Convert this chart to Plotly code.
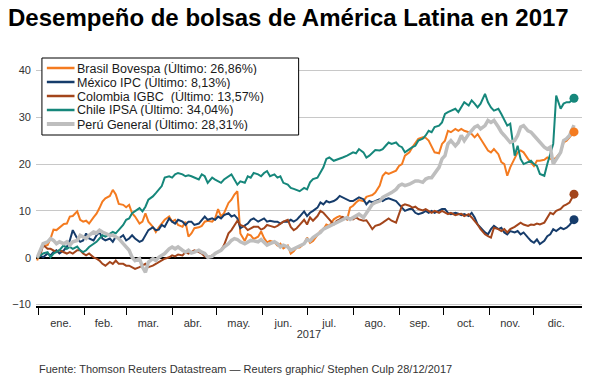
import pandas as pd
import plotly.graph_objects as go

# ---------------- data ----------------
# sample days, counted from 1 Jan 2017 (0 = 1 Jan)
day_offsets = [-1, 1, 3, 6, 8, 10, 12, 14, 17, 19, 21, 23, 26, 28, 30, 32, 34, 37, 39, 41,
               43, 45, 48, 50, 52, 54, 57, 59, 61, 63, 65, 68, 70, 72, 74, 77, 79, 81, 83, 85,
               88, 90, 92, 94, 97, 99, 101, 103, 105, 108, 110, 112, 114, 117, 119, 121, 123, 125, 128, 130,
               132, 134, 136, 139, 141, 143, 145, 148, 150, 152, 154, 156, 159, 161, 163, 165, 168, 170, 172, 174,
               176, 179,
               181, 183, 185, 188, 190, 192, 194, 196, 199, 201, 203, 205, 208, 210, 212, 214, 216, 219, 221, 223,
               225, 227, 230, 232, 234, 236, 238, 241, 243, 245, 247, 250, 252, 254, 256, 259, 261, 263, 265, 267,
               270, 272,
               274, 276, 278, 281, 283, 285, 287, 290, 292, 294, 296, 298, 301, 303, 305, 307, 310, 312, 314, 316,
               318, 321, 323, 325, 327, 330, 332, 334, 336, 338, 341, 343, 345, 347, 349, 352, 354, 356, 358, 361]

brasil = [-0.6, 1.6, 2.5, 2.7, 4.1, 6.0, 5.9, 6.5, 7.2, 7.3, 8.8, 8.9, 9.9, 8.1, 7.7, 7.9, 7.3, 8.6, 9.4, 10.6,
          12.0, 12.7, 13.2, 14.5, 13.5, 11.5, 11.3, 10.8, 11.3, 9.5, 8.8, 7.3, 7.7, 9.5, 7.7, 6.6, 5.5, 6.5, 7.2, 8.1,
          8.8, 7.7, 8.1, 7.0, 6.6, 7.7, 4.5, 5.2, 6.3, 6.5, 6.8, 7.7, 7.9, 7.7, 8.4, 10.4, 8.8, 9.5, 11.7, 12.4,
          13.5, 14.2, 5.2, 3.6, 5.0, 4.8, 4.0, 4.5, 5.6, 4.2, 3.3, 3.6, 3.3, 2.6, 3.0, 2.0, 2.6, 0.9, 1.4, 2.2,
          2.2, 3.0,
          4.3, 3.2, 3.6, 5.0, 5.7, 6.1, 7.1, 6.8, 8.2, 8.6, 8.9, 8.6, 8.2, 10.7, 11.1, 11.8, 12.3, 12.1, 13.0, 13.2,
          13.4, 13.9, 15.4, 17.5, 18.2, 17.9, 18.2, 18.6, 19.6, 20.0, 21.8, 22.5, 23.6, 24.6, 25.4, 25.7, 25.6, 25.0, 23.9, 22.5,
          22.3, 24.3,
          25.0, 27.1, 26.8, 27.5, 27.1, 27.5, 27.1, 26.8, 26.4, 25.7, 26.4, 25.4, 23.9, 22.9, 22.5, 23.2, 22.1, 20.4, 20.0, 17.5,
          19.3, 21.4, 22.5, 22.9, 22.5, 21.1, 20.4, 19.6, 20.7, 20.7, 20.9, 21.4, 21.1, 20.9, 21.4, 22.5, 24.6, 25.0, 25.7, 26.86]

mexico = [0.0, 0.5, 0.1, 0.9, 0.5, 1.2, 1.6, 0.9, 1.6, 2.3, 3.7, 5.9, 4.1, 3.4, 3.7, 5.2, 4.1, 3.7, 4.8, 5.5,
          4.1, 3.7, 4.1, 3.4, 4.5, 4.1, 4.8, 3.7, 4.1, 4.8, 4.1, 3.4, 3.7, 4.8, 5.9, 6.5, 5.9, 6.0, 7.0, 6.6,
          8.4, 7.7, 7.3, 8.1, 7.7, 7.0, 7.7, 7.7, 7.0, 7.3, 8.1, 8.8, 8.1, 8.4, 8.1, 8.8, 8.4, 9.1, 9.5, 8.8,
          9.1, 8.4, 6.3, 7.0, 7.3, 8.1, 8.4, 7.7, 8.1, 8.4, 7.7, 7.9, 7.7, 7.7, 7.3, 7.7, 7.7, 8.1, 7.7, 8.1,
          8.8, 9.9,
          8.9, 9.6, 10.0, 10.7, 11.8, 11.4, 12.1, 11.8, 12.1, 12.5, 13.2, 12.9, 12.3, 12.1, 12.1, 12.5, 12.9, 12.5, 11.4, 12.1,
          11.8, 12.1, 12.5, 12.1, 12.5, 12.7, 12.5, 12.1, 11.4, 10.7, 10.0, 10.4, 10.4, 9.6, 9.3, 9.6, 10.0, 9.6, 10.0, 9.6,
          10.0, 10.4,
          10.4, 9.6, 9.3, 9.6, 9.4, 9.1, 9.3, 8.9, 9.6, 8.6, 7.1, 6.4, 5.4, 5.0, 6.1, 6.8, 6.1, 6.4, 5.4, 5.0,
          5.7, 5.4, 5.7, 5.0, 5.4, 4.3, 3.6, 3.2, 3.9, 2.9, 3.6, 4.6, 5.0, 6.1, 5.7, 6.4, 6.1, 6.4, 7.0, 8.13]

colombia = [0.0, 0.5, 2.7, 1.9, 1.9, 1.6, 1.2, 1.6, 1.2, 0.9, 1.2, 0.9, 1.6, 1.6, 0.9, 0.5, 0.9, 0.1, -0.2, -0.6,
            -1.3, -1.7, -0.9, -1.3, -0.6, -1.3, -1.3, -1.7, -1.7, -2.0, -2.4, -2.0, -1.7, -1.3, -2.0, -1.7, -1.3, -0.9, -0.6, -0.2,
            0.1, 0.5, 0.3, 0.7, 0.5, 1.2, 0.9, 1.2, 1.6, 1.2, 0.9, 0.3, 0.1, 0.5, 0.9, 1.2, 1.6, 2.7, 5.2, 5.9,
            7.0, 7.9, 7.0, 6.6, 5.9, 6.3, 6.6, 6.6, 6.0, 6.3, 7.0, 6.8, 6.5, 6.8, 7.3, 7.7, 8.1, 6.6, 5.9, 6.3,
            7.0, 8.1,
            7.1, 8.6, 7.9, 8.9, 10.0, 9.6, 8.9, 8.2, 7.1, 7.9, 8.2, 8.7, 8.2, 8.4, 8.2, 8.6, 8.2, 7.9, 8.0, 7.1,
            6.1, 6.8, 7.1, 7.5, 8.0, 8.4, 7.9, 7.5, 9.3, 11.1, 11.4, 11.1, 10.7, 10.9, 10.4, 10.1, 10.4, 10.0, 9.6, 10.0,
            9.6, 10.0,
            9.6, 9.3, 9.6, 9.1, 9.3, 9.4, 8.9, 9.3, 8.6, 7.9, 7.1, 6.1, 5.0, 4.6, 4.3, 6.4, 6.1, 5.7, 6.1, 5.4,
            6.1, 6.6, 7.1, 7.5, 7.1, 6.8, 7.1, 7.0, 7.3, 7.1, 7.5, 8.6, 9.6, 9.3, 10.0, 10.4, 11.1, 11.4, 11.8, 13.57]

chile = [0.0, 0.5, 0.9, 1.2, 0.1, 0.9, 1.2, 1.6, 2.7, 1.9, 2.3, 1.9, 2.4, 1.6, 1.2, 1.6, 2.3, 3.0, 3.4, 4.1,
         4.8, 4.5, 5.2, 5.5, 5.2, 5.9, 7.0, 8.1, 8.4, 9.5, 9.9, 10.6, 9.9, 10.9, 12.4, 13.1, 13.8, 14.5, 15.3, 17.1,
         17.4, 17.1, 17.8, 18.1, 17.8, 17.4, 17.6, 17.4, 17.1, 16.7, 17.8, 17.4, 16.0, 17.1, 16.7, 16.3, 16.0, 16.7, 17.4, 17.8,
         16.7, 15.6, 16.3, 16.0, 17.4, 17.1, 18.1, 17.8, 17.4, 18.1, 18.5, 17.4, 17.8, 17.1, 17.4, 16.0, 15.6, 14.9, 14.7, 14.5,
         14.2, 14.9,
         14.6, 16.1, 16.8, 17.1, 18.2, 19.3, 21.1, 21.4, 20.7, 20.9, 21.1, 21.4, 21.8, 22.1, 22.5, 22.3, 23.2, 22.5, 21.4, 21.8,
         22.5, 23.0, 22.9, 23.2, 23.9, 24.6, 24.3, 24.6, 23.9, 23.6, 22.5, 23.2, 23.6, 23.9, 25.0, 25.4, 26.1, 27.1, 26.8, 27.9,
         28.2, 28.9,
         30.7, 31.1, 31.4, 31.8, 31.1, 32.1, 33.2, 32.5, 33.6, 32.9, 32.1, 32.9, 35.0, 33.2, 32.1, 31.4, 31.8, 30.7, 29.6, 28.2,
         28.6, 21.8, 23.9, 21.1, 20.0, 20.4, 20.7, 20.0, 19.6, 17.9, 17.5, 20.0, 22.1, 24.3, 34.6, 31.8, 32.9, 33.2, 33.2, 34.04]

peru = [0.0, 1.6, 3.0, 3.4, 4.1, 3.7, 3.0, 3.4, 3.0, 3.4, 2.7, 3.4, 3.7, 4.8, 4.5, 4.1, 4.8, 5.5, 5.3, 5.9,
        5.5, 5.2, 4.8, 4.8, 4.5, 4.1, 3.0, 2.3, 1.6, 0.1, -0.6, -0.2, -2.0, -3.1, -0.9, -0.2, -0.6, 0.1, 0.5, 0.9,
        1.9, 2.3, 1.9, 2.3, 1.6, 1.2, 1.6, 1.0, 1.2, 1.6, 1.2, 0.9, 0.1, 0.3, 0.9, 1.2, 1.6, 2.3, 3.0, 3.7,
        4.1, 3.9, 3.4, 3.0, 3.4, 3.7, 3.6, 3.4, 3.9, 3.4, 2.7, 3.0, 3.4, 3.0, 2.3, 2.7, 2.3, 1.6, 1.9, 2.3,
        2.7, 3.0,
        3.9, 3.6, 4.3, 5.0, 5.4, 6.1, 6.4, 6.8, 7.1, 7.5, 7.9, 8.2, 8.6, 8.2, 8.6, 8.9, 9.3, 8.6, 9.6, 10.7,
        11.4, 11.8, 12.1, 12.9, 13.2, 13.6, 13.9, 14.6, 15.4, 15.7, 15.4, 15.7, 16.1, 16.4, 16.4, 16.1, 16.8, 17.1, 17.1, 17.9,
        19.3, 21.1,
        21.8, 24.3, 25.0, 23.9, 24.6, 26.1, 25.0, 26.4, 27.1, 27.9, 28.2, 27.5, 28.2, 29.3, 28.9, 29.3, 27.9, 26.8, 26.1, 25.4,
        24.6, 25.0, 26.1, 27.9, 28.2, 27.1, 26.8, 26.1, 25.4, 24.6, 23.6, 23.2, 23.6, 20.0, 21.1, 22.5, 25.0, 25.4, 26.1, 28.31]

series_names = ["Brasil Bovespa (Último: 26,86%)",
                "México IPC (Último: 8,13%)",
                "Colombia IGBC  (Último: 13,57%)",
                "Chile IPSA (Último: 34,04%)",
                "Perú General (Último: 28,31%)"]

month_starts = ["2017-01-01", "2017-02-01", "2017-03-01", "2017-04-01", "2017-05-01", "2017-06-01",
                "2017-07-01", "2017-08-01", "2017-09-01", "2017-10-01", "2017-11-01", "2017-12-01"]
month_mids = ["2017-01-16", "2017-02-14", "2017-03-16", "2017-04-15", "2017-05-16", "2017-06-15",
              "2017-07-16", "2017-08-16", "2017-09-15", "2017-10-16", "2017-11-15", "2017-12-16"]
month_labels = ["ene.", "feb.", "mar.", "abr.", "may.", "jun.",
                "jul.", "ago.", "sep.", "oct.", "nov.", "dic."]
y_ticks = [-10, 0, 10, 20, 30, 40]

# ---------------- styling ----------------
colors = ["#F47B20", "#163C6B", "#A3451B", "#16877B", "#BEBEBE"]
widths = [2, 2, 2, 2, 3.5]
end_dot = [True, True, True, True, False]
FONT = "Liberation Sans, Arial, sans-serif"

dates = pd.Timestamp("2017-01-01") + pd.to_timedelta(day_offsets, unit="D")
values = [brasil, mexico, colombia, chile, peru]

W, H = 600, 376
ML, MR, MT, MB = 29, 18, 61, 70
PW, PH = W - ML - MR, H - MT - MB


def px_x(p):
    return (p - ML) / PW


def px_y(p):
    return (H - MB - p) / PH


fig = go.Figure()
for name, vals, col, wd in zip(series_names, values, colors, widths):
    fig.add_trace(go.Scatter(x=dates, y=vals, mode="lines", name=name,
                             line=dict(color=col, width=wd), showlegend=False))
for vals, col, dot in zip(values, colors, end_dot):
    if dot:
        fig.add_trace(go.Scatter(x=[dates[-1]], y=[vals[-1]], mode="markers",
                                 marker=dict(color=col, size=9), showlegend=False,
                                 hoverinfo="skip"))

# legend box (custom, to match compact row spacing)
shapes = [dict(type="rect", xref="paper", yref="paper",
               x0=px_x(35), x1=px_x(295), y0=px_y(135), y1=px_y(58),
               line=dict(color="black", width=1), fillcolor="white", layer="above")]
annotations = []
for i, (name, col, wd) in enumerate(zip(series_names, colors, widths)):
    yc = 68 + 14 * i
    shapes.append(dict(type="line", xref="paper", yref="paper",
                       x0=px_x(40), x1=px_x(68), y0=px_y(yc), y1=px_y(yc),
                       line=dict(color=col, width=wd + 0.5), layer="above"))
    annotations.append(dict(xref="paper", yref="paper", x=px_x(70), y=px_y(yc),
                            xanchor="left", yanchor="middle", text=name, showarrow=False,
                            height=13, valign="middle", borderpad=0,
                            font=dict(family=FONT, size=12.5, color="#1a1a1a")))

annotations.append(dict(xref="paper", yref="paper", x=px_x(30), y=px_y(369),
                        xanchor="left", yanchor="middle", showarrow=False,
                        text="Fuente: Thomson Reuters Datastream — Reuters graphic/ Stephen Culp 28/12/2017",
                        font=dict(family=FONT, size=11, color="#333333")))

fig.update_layout(
    width=W, height=H,
    margin=dict(l=ML, r=MR, t=MT, b=MB),
    paper_bgcolor="white", plot_bgcolor="white",
    font=dict(family=FONT, size=11, color="#333333"),
    title=dict(text="<b>Desempeño de bolsas de América Latina en 2017</b>",
               x=8 / W, xanchor="left", xref="container",
               y=1 - 18 / H, yanchor="middle", yref="container",
               font=dict(family=FONT, size=24, color="black")),
    shapes=shapes, annotations=annotations,
    xaxis=dict(type="date", range=["2016-12-30 04:48", "2018-01-02 09:36"],
               tickmode="array", tickvals=month_mids, ticktext=month_labels,
               ticks="", showgrid=False, zeroline=False,
               showline=True, linecolor="black", linewidth=1.5,
               tickfont=dict(size=11, color="#333333"), ticklabelstandoff=6,
               minor=dict(tickmode="array", tickvals=month_starts, ticks="outside",
                          ticklen=7, tickwidth=1, tickcolor="black", showgrid=False),
               title=dict(text="2017", font=dict(size=11, color="#333333"), standoff=2)),
    yaxis=dict(range=[-10.3, 42], tickmode="array", tickvals=y_ticks,
               showgrid=True, gridcolor="#c8c8c8", gridwidth=1,
               zeroline=True, zerolinecolor="black", zerolinewidth=1.5,
               ticks="", showline=False, ticklabelstandoff=4,
               tickfont=dict(size=11, color="#333333")),
)

fig.write_html("out.html", config={"displayModeBar": False},
               post_script="document.body.style.margin='0';")
